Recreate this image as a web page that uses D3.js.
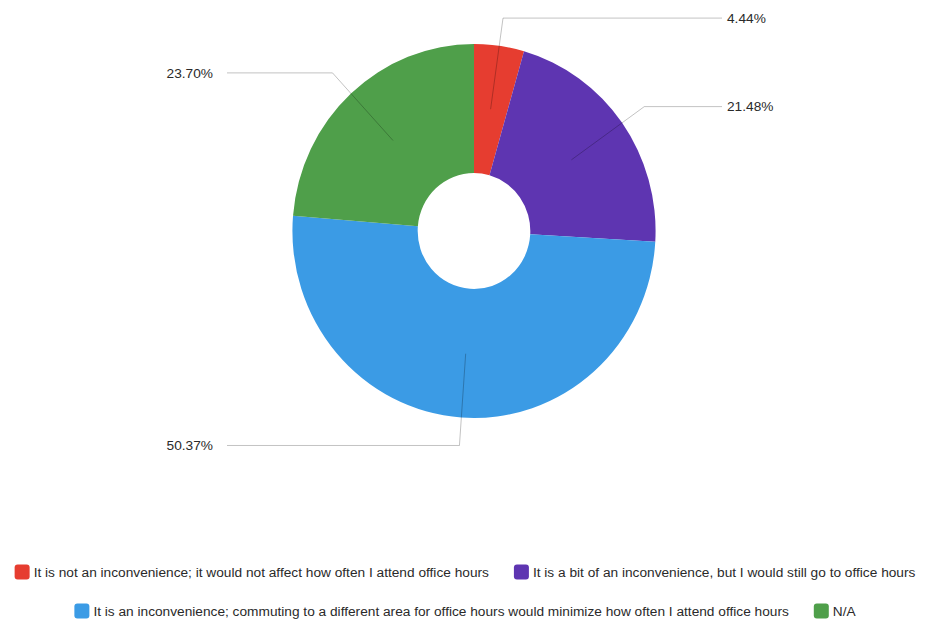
<!DOCTYPE html>
<html>
<head>
<meta charset="utf-8">
<script src="https://cdn.jsdelivr.net/npm/d3@7"></script>
<style>
  html, body { margin: 0; padding: 0; background: #fff; }
  svg { display: block; font-family: "Liberation Sans", Arial, sans-serif; }
</style>
</head>
<body>
<svg id="chart" width="925" height="621"></svg>
<script>
const categories = [
  "It is not an inconvenience; it would not affect how often I attend office hours",
  "It is a bit of an inconvenience, but I would still go to office hours",
  "It is an inconvenience; commuting to a different area for office hours would minimize how often I attend office hours",
  "N/A"
];
const values = [4.44, 21.48, 50.37, 23.70];
const valueLabels = ["4.44%", "21.48%", "50.37%", "23.70%"];
const colors = ["#e63d30", "#5e35b1", "#3b9be5", "#4f9f4a"];
const legendRows = [[0, 1], [2, 3]];

const svg = d3.select("#chart");
const cx = 474, cy = 231, R = 187, r0 = 58, sx = 0.971;

const pie = d3.pie().sort(null).value(d => d.v);
const arcs = pie(values.map((v, i) => ({ v, i })));
const arc = d3.arc().innerRadius(r0).outerRadius(R);

const g = svg.append("g").attr("transform", `translate(${cx},${cy}) scale(${sx},1)`);
g.selectAll("path").data(arcs).enter().append("path")
  .attr("d", arc)
  .attr("fill", d => colors[d.data.i]);

// leader lines + labels
function pt(angle, rad) {
  return [cx + Math.sin(angle) * rad * sx, cy - Math.cos(angle) * rad];
}
const lab = svg.append("g");
arcs.forEach(d => {
  const a = (d.startAngle + d.endAngle) / 2;
  const p1 = pt(a, 123);
  const p2 = pt(a, 215);
  const right = Math.sin(a) >= 0;
  const xEnd = right ? 722 : 227;
  lab.append("polyline")
    .attr("points", [p1, p2, [xEnd, p2[1]]].map(p => p.join(",")).join(" "))
    .attr("fill", "none")
    .attr("stroke", "rgba(0,0,0,0.24)")
    .attr("stroke-width", 1);
  lab.append("text")
    .attr("x", right ? xEnd + 5 : xEnd - 14)
    .attr("y", p2[1])
    .attr("dy", "0.35em")
    .attr("text-anchor", right ? "start" : "end")
    .attr("font-size", 13.7)
    .attr("fill", "#2a2a2a")
    .text(valueLabels[d.data.i]);
});

// legend
const legend = svg.append("g");
const rowY = [572, 611];
const sq = 15, gapSq = 4, gapItem = 25, centerX = 465;
legendRows.forEach((row, ri) => {
  const rg = legend.append("g");
  let x = 0;
  row.forEach(i => {
    rg.append("rect")
      .attr("x", x).attr("y", rowY[ri] - sq / 2)
      .attr("width", sq).attr("height", sq)
      .attr("rx", 3).attr("fill", colors[i]);
    const t = rg.append("text")
      .attr("x", x + sq + gapSq).attr("y", rowY[ri])
      .attr("dy", "0.35em")
      .attr("font-size", 13.7)
      .attr("fill", "#2a2a2a")
      .text(categories[i]);
    x += sq + gapSq + t.node().getComputedTextLength() + gapItem;
  });
  const w = x - gapItem;
  rg.attr("transform", `translate(${centerX - w / 2},0)`);
});
</script>
</body>
</html>
